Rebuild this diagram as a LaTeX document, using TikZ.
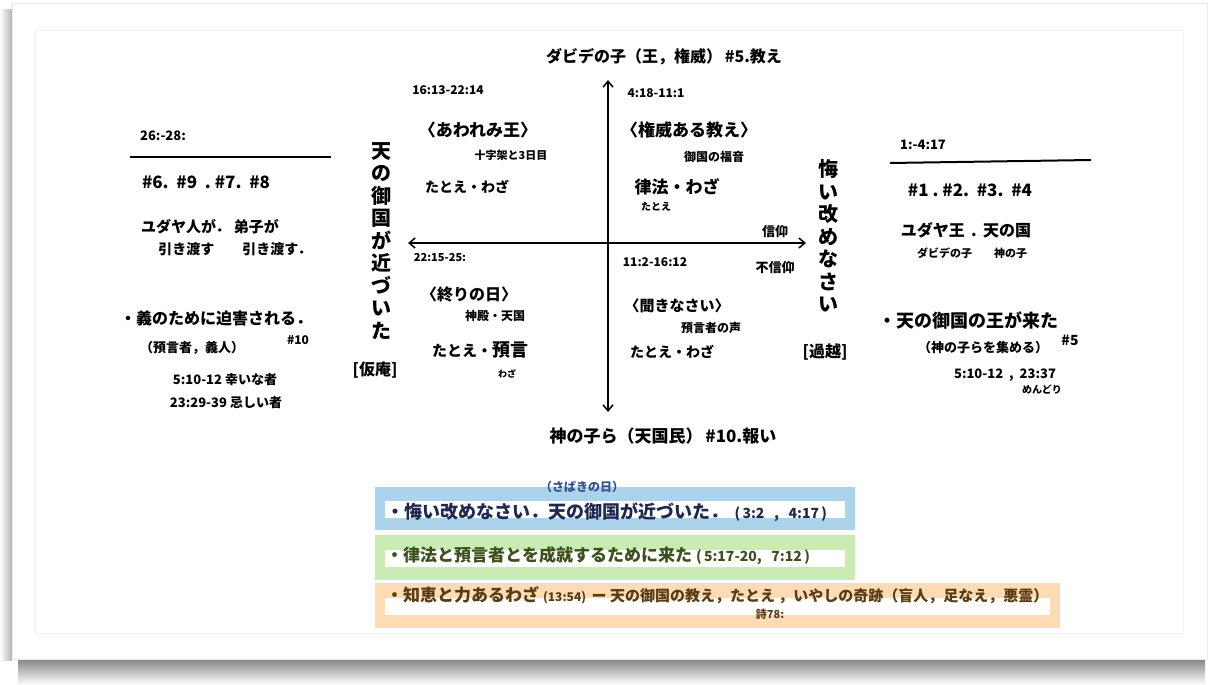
\documentclass[tikz,border=0pt]{standalone}
\usepackage{fontspec}
\setmainfont{Noto Sans CJK JP}
\usetikzlibrary{arrows.meta}
\definecolor{bxblue}{RGB}{171,211,236}
\definecolor{bxgreen}{RGB}{202,236,178}
\definecolor{bxorange}{RGB}{253,219,180}
\definecolor{txblue}{RGB}{30,40,80}
\definecolor{txgreen}{RGB}{60,80,30}
\definecolor{txorange}{RGB}{90,60,20}
\definecolor{txsky}{RGB}{50,80,140}
\tikzset{
  lbl/.style={inner sep=0pt, anchor=center, font=\fontsize{#1}{#1}\selectfont\bfseries},
  lblw/.style={inner sep=0pt, anchor=west, font=\fontsize{#1}{#1}\selectfont\bfseries},
  vert/.style={inner sep=0pt, anchor=center, align=center, font=\fontsize{20}{22.5}\selectfont\bfseries},
  axis/.style={line width=1.5pt, {Straight Barb[length=6pt,width=10pt]}-{Straight Barb[length=6pt,width=10pt]}},
  rule/.style={line width=2pt},
}
\begin{document}
\begin{tikzpicture}[x=1pt,y=-1pt]
\useasboundingbox (0,0) rectangle (1218,685);
% card and shadow
\fill[white] (0,0) rectangle (1218,685);
\shade[top color=black!55, bottom color=white] (18,655) rectangle (1205,685);
\shade[left color=white, right color=black!30] (0,10) rectangle (12,660);
\fill[white] (12,3) rectangle (1207,659);
\draw[black!8] (12,3) rectangle (1207,659);
\draw[black!6] (35,30) rectangle (1183,633);

% axes
\coordinate (atop) at (608,80);
\coordinate (abot) at (608,412);
\coordinate (alft) at (408,243);
\coordinate (argt) at (806,243);
\draw[axis] (abot) -- (atop);
\draw[axis] (alft) -- (argt);

% axis labels
\node[lbl=16] (topl) at (664,57) {ダビデの子（王，権威）\,\#5.教え};
\node[lbl=17] (botl) at (663,436) {神の子ら（天国民）\,\#10.報い};
\node[vert] (leftv) at (381,241) {天\\の\\御\\国\\が\\近\\づ\\い\\た};
\node[lbl=16] (kari) at (375,370) {[仮庵]};
\node[vert] (rightv) at (828,236) {悔\\い\\改\\め\\な\\さ\\い};
\node[lbl=16] (sugi) at (825,352) {[過越]};
\node[lbl=13] (shin) at (775,232) {信仰};
\node[lbl=13] (fushin) at (775,268) {不信仰};

% quadrant: upper left
\node[lbl=12] (r1) at (448,90) {16:13-22:14};
\node[lbl=17] (q1a) at (478,130) {〈あわれみ王〉};
\node[lbl=11] (q1b) at (511,155) {十字架と3日目};
\node[lbl=14] (q1c) at (467,187) {たとえ・わざ};
% upper right
\node[lbl=12] (r2) at (656,93) {4:18-11:1};
\node[lbl=17] (q2a) at (689,130) {〈権威ある教え〉};
\node[lbl=12] (q2b) at (714,157) {御国の福音};
\node[lbl=17] (q2c) at (677,187) {律法・わざ};
\node[lbl=10] (q2d) at (656,207) {たとえ};
% lower left
\node[lbl=11] (r3) at (440,258) {22:15-25:};
\node[lbl=16] (q3a) at (469,295) {〈終りの日〉};
\node[lbl=12] (q3b) at (495,316) {神殿・天国};
\node[lbl=15] (q3c) at (480,350) {たとえ・\fontsize{18}{18}\selectfont 預言};
\node[lbl=9] (q3d) at (507,374) {わざ};
% lower right
\node[lbl=12] (r4) at (655,262) {11:2-16:12};
\node[lbl=15] (q4a) at (677,306) {〈聞きなさい〉};
\node[lbl=12] (q4b) at (711,328) {預言者の声};
\node[lbl=14] (q4c) at (672,352) {たとえ・わざ};

% left column
\node[lbl=13] (lc0) at (163,136) {26:-28:};
\coordinate (ll1) at (130,157);
\coordinate (ll2) at (331,157);
\draw[rule] (ll1) -- (ll2);
\node[lbl=17] (lc1) at (206,182) {\#6.\ \ \#9\ \ .\ \#7.\ \ \#8};
\node[lbl=15] (lc2) at (210,227) {ユダヤ人が．\ 弟子が};
\node[lbl=14] (lc3) at (235,249) {引き渡す\qquad 引き渡す．};
\node[lbl=16] (lc4) at (216,318) {・義のために迫害される．};
\node[lbl=13] (lc5) at (192,348) {（預言者，義人）};
\node[lbl=12] (lc6) at (298,340) {\#10};
\node[lbl=13] (lc7) at (225,380) {5:10-12 幸いな者};
\node[lbl=13] (lc8) at (226,403) {23:29-39 忌しい者};

% right column
\node[lbl=13] (rc0) at (923,145) {1:-4:17};
\coordinate (rl1) at (890,163);
\coordinate (rl2) at (1091,160);
\draw[rule] (rl1) -- (rl2);
\node[lbl=17] (rc1) at (970,190) {\#1\ .\ \#2.\ \ \#3.\ \ \#4};
\node[lbl=16] (rc2) at (966,230) {ユダヤ王\ \,.\ \,天の国};
\node[lbl=11] (rc3) at (972,253) {ダビデの子\qquad 神の子};
\node[lbl=18] (rc4) at (968,320) {・天の御国の王が来た};
\node[lbl=13] (rc5) at (983,348) {（神の子らを集める）};
\node[lbl=14] (rc6) at (1070,340) {\#5};
\node[lbl=13] (rc7) at (1005,375) {5:10-12\ \ ,\ \ 23:37};
\node[lbl=10] (rc8) at (1042,390) {めんどり};

% bottom boxes
\fill[bxblue] (375,487) rectangle (855,530);
\fill[white] (385,501) rectangle (845,518);
\fill[bxgreen] (375,535) rectangle (855,580);
\fill[white] (385,550) rectangle (845,567);
\fill[bxorange] (375,583) rectangle (1060,628);
\fill[white] (385,598) rectangle (1050,615);
\node[lbl=12, text=txsky] (sabaki) at (582,487) {（さばきの日）};
\node[lblw=18, text=txblue] (b1) at (386,512) {・悔い改めなさい．天の御国が近づいた．\fontsize{14}{14}\selectfont\ \ (\,3:2\ \ \ ,\ \ \ 4:17\,)};
\node[lblw=17, text=txgreen] (b2) at (386,556) {・律法と預言者とを成就するために来た\ \fontsize{14}{14}\selectfont (\,5:17-20,\ \ \ 7:12\,)};
\node[lblw=17, text=txorange] (b3) at (386,595) {・知恵と力あるわざ\ \fontsize{12}{12}\selectfont (13:54)\ \ \fontsize{15}{15}\selectfont ー 天の御国の教え，たとえ\ ，いやしの奇跡（盲人，足なえ，悪霊）};
\node[lbl=11, text=txorange] (b4) at (770,614) {詩78:};
\end{tikzpicture}
\end{document}
